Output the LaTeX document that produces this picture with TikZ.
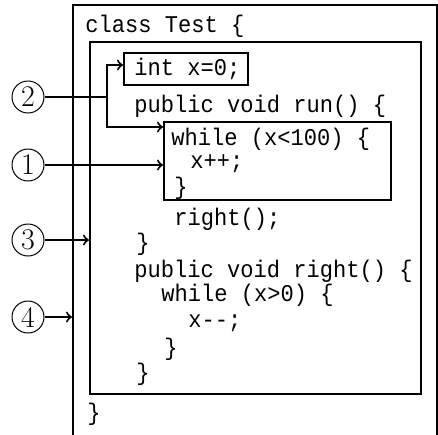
\documentclass[tikz,border=0pt]{standalone}
\usepackage{fontspec}
\newfontfamily\codefont{Liberation Mono}[FakeStretch=0.92]
\usetikzlibrary{fit}

\begin{document}
\begin{tikzpicture}[x=0.5pt,y=-0.5pt,
    box/.style={draw,line width=1pt,inner sep=0pt},
    code/.style={anchor=base west,inner sep=0pt,font={\codefont\fontsize{12}{12}\selectfont}},
    arr/.style={->,>=to,line width=1pt}]

      \useasboundingbox (0,0) rectangle (438,434);
      \clip (0,0) rectangle (438,434);

      % blocks
      \node[box,fit={(73,5) (437,480)}]    (outer) {};
      \node[box,fit={(90,42) (421,394)}]   (inner) {};
      \node[box,fit={(124,53) (248,85)}]   (intbox) {};
      \node[box,fit={(164,122) (391,200)}] (whilebox) {};

      % code lines
      \begin{scope}[every node/.style={code}]
        \node (l1)  at (85,32)  {class Test \{};
        \node (l2)  at (134,75) {int x=0;};
        \node (l3)  at (134,112) {public void run() \{};
        \node (l4)  at (171,145) {while (x<100) \{};
        \node (l5)  at (190,168) {x++;};
        \node (l6)  at (174,194) {\}};
        \node (l7)  at (174,225) {right();};
        \node (l8)  at (136,250) {\}};
        \node (l9)  at (134,277) {public void right() \{};
        \node (l10) at (161,301) {while (x>0) \{};
        \node (l11) at (188,327) {x--;};
        \node (l12) at (164,355) {\}};
        \node (l13) at (136,380) {\}};
        \node (l14) at (87,420) {\}};
      \end{scope}

      % markers
      \begin{scope}[every node/.style={circle,draw,line width=0.5pt,inner sep=0pt,
          minimum size=16pt,font=\fontsize{15}{15}\selectfont}]
        \node (c2) at (28,97)  {2};
        \node (c1) at (28,165) {1};
        \node (c3) at (28,240) {3};
        \node (c4) at (28,317) {4};
      \end{scope}

      \coordinate (split) at (107,97);
      \draw[line width=1pt] (c2.east) -- (split);
      \draw[arr] (split) |- ([yshift=2pt]intbox.west);
      \draw[arr] (split) |- ([yshift=-3pt]whilebox.north west);
      \draw[arr] (c1.east) -- (c1 -| whilebox.west);
      \draw[arr] (c3.east) -- (c3 -| inner.west);
      \draw[arr] (c4.east) -- (c4 -| outer.west);

\end{tikzpicture}
\end{document}
